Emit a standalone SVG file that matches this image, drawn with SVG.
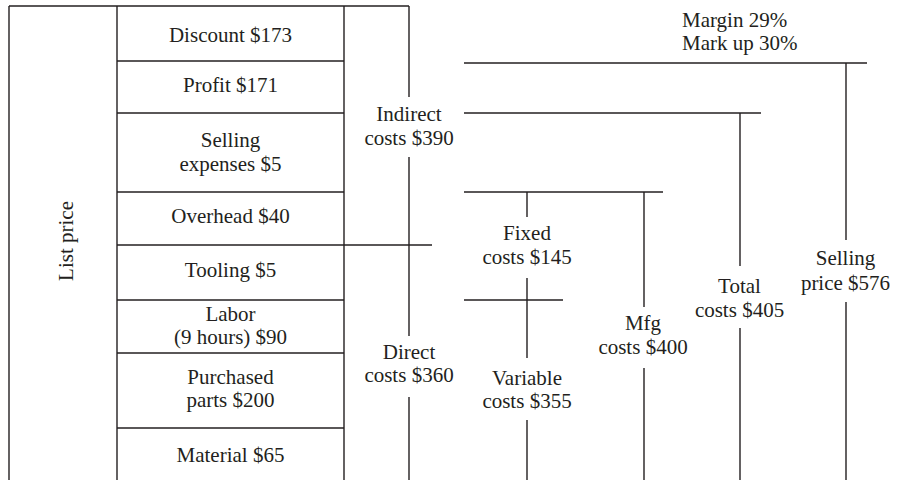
<svg xmlns="http://www.w3.org/2000/svg" width="901" height="480" viewBox="0 0 901 480">
<style>
.l{stroke:#231f20;stroke-width:1.4;fill:none}
.t{font-family:"Liberation Serif","Times New Roman",serif;font-size:21px;fill:#231f20;text-anchor:middle}
.s{text-anchor:start}
</style>
<rect width="901" height="480" fill="#fff"/>
<g id="list-price">
<line class="l" x1="9" y1="6" x2="9" y2="480"/>
<line class="l" x1="9" y1="6" x2="409" y2="6"/>
<text class="t" transform="translate(73,241) rotate(-90)">List price</text>
</g>
<g id="stack">
<line class="l" x1="117" y1="6" x2="117" y2="480"/>
<line class="l" x1="344" y1="6" x2="344" y2="480"/>
</g>
<g id="discount"><text class="t" x="230.5" y="42">Discount $173</text></g>
<g id="profit"><line class="l" x1="117" y1="61" x2="344" y2="61"/><text class="t" x="230.5" y="92">Profit $171</text></g>
<g id="selling-expenses"><line class="l" x1="117" y1="113" x2="344" y2="113"/><text class="t" x="230.5" y="147">Selling</text><text class="t" x="230.5" y="171">expenses $5</text></g>
<g id="overhead"><line class="l" x1="117" y1="192" x2="344" y2="192"/><text class="t" x="230.5" y="223">Overhead $40</text></g>
<g id="tooling"><text class="t" x="230.5" y="277">Tooling $5</text></g>
<g id="labor"><line class="l" x1="117" y1="300" x2="344" y2="300"/><text class="t" x="230.5" y="321">Labor</text><text class="t" x="230.5" y="344">(9 hours) $90</text></g>
<g id="purchased-parts"><line class="l" x1="117" y1="353" x2="344" y2="353"/><text class="t" x="230.5" y="384">Purchased</text><text class="t" x="230.5" y="407">parts $200</text></g>
<g id="material"><line class="l" x1="117" y1="428" x2="344" y2="428"/><text class="t" x="230.5" y="462">Material $65</text></g>
<g id="indirect"><text class="t" x="409" y="121">Indirect</text><text class="t" x="409" y="145">costs $390</text></g>
<g id="direct"><text class="t" x="409" y="359">Direct</text><text class="t" x="409" y="382">costs $360</text></g>
<g id="fixed"><text class="t" x="527" y="240">Fixed</text><text class="t" x="527" y="264">costs $145</text></g>
<g id="variable"><text class="t" x="527" y="385">Variable</text><text class="t" x="527" y="408">costs $355</text></g>
<g id="mfg"><text class="t" x="643" y="330">Mfg</text><text class="t" x="643" y="354">costs $400</text></g>
<g id="total"><text class="t" x="739.5" y="293">Total</text><text class="t" x="739.5" y="317">costs $405</text></g>
<g id="selling-price"><text class="t" x="845.5" y="265">Selling</text><text class="t" x="845.5" y="290">price $576</text></g>
<g id="margin"><text class="t s" x="682" y="27">Margin 29%</text><text class="t s" x="682" y="50">Mark up 30%</text></g>
<g id="connectors">
<line class="l" x1="117" y1="245" x2="432" y2="245"/>
<line class="l" x1="409" y1="6" x2="409" y2="97"/>
<line class="l" x1="409" y1="157" x2="409" y2="336"/>
<line class="l" x1="409" y1="397" x2="409" y2="480"/>
<line class="l" x1="464" y1="63" x2="867" y2="63"/>
<line class="l" x1="846" y1="63" x2="846" y2="240"/>
<line class="l" x1="846" y1="302" x2="846" y2="480"/>
<line class="l" x1="464" y1="113" x2="761" y2="113"/>
<line class="l" x1="740" y1="113" x2="740" y2="266"/>
<line class="l" x1="740" y1="328" x2="740" y2="480"/>
<line class="l" x1="464" y1="192" x2="663" y2="192"/>
<line class="l" x1="644" y1="192" x2="644" y2="307"/>
<line class="l" x1="644" y1="368" x2="644" y2="480"/>
<line class="l" x1="527" y1="192" x2="527" y2="217"/>
<line class="l" x1="527" y1="278" x2="527" y2="358"/>
<line class="l" x1="527" y1="420" x2="527" y2="480"/>
<line class="l" x1="464" y1="300" x2="563" y2="300"/>
</g>
</svg>
